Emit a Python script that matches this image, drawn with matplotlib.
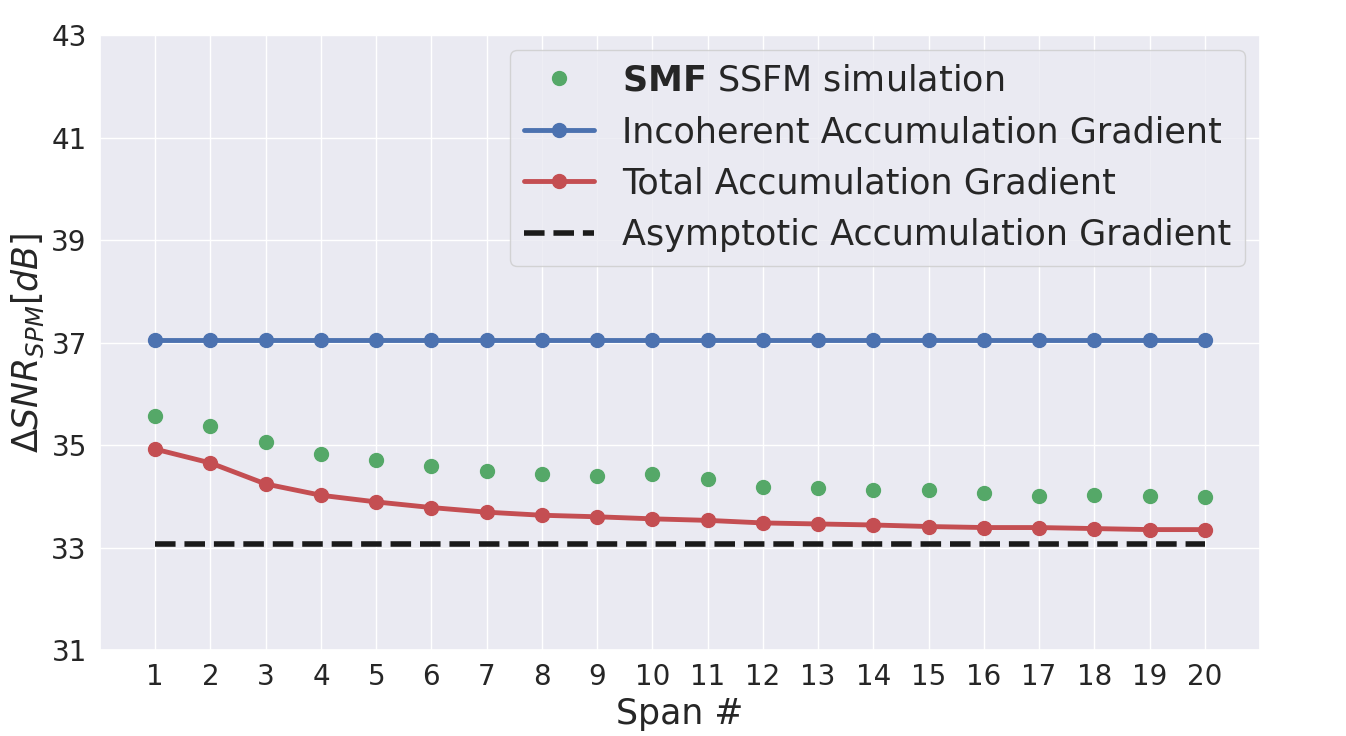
import matplotlib
matplotlib.use('Agg')
import matplotlib.pyplot as plt
import seaborn as sns
import numpy as np

# пролёты
spans = np.arange(1, 21)

# результаты моделирования SSFM для SMF
ssfm_smf = [35.57, 35.37, 35.06, 34.82, 34.71, 34.59, 34.49, 34.43, 34.39, 34.43,
            34.33, 34.19, 34.17, 34.12, 34.12, 34.06, 34.01, 34.03, 34.01, 33.99]

# некогерентный градиент накопления
incoherent = [37.04] * 20

# полный градиент накопления
total = [34.92, 34.65, 34.24, 34.02, 33.89, 33.78, 33.69, 33.63, 33.60, 33.56,
         33.53, 33.48, 33.46, 33.44, 33.41, 33.39, 33.39, 33.37, 33.35, 33.35]

# асимптотический градиент
asymptotic = [33.06] * 20

y_ticks = [31, 33, 35, 37, 39, 41, 43]

sns.set_theme(style='darkgrid')
plt.rcParams['font.family'] = ['DejaVu Sans']
palette = sns.color_palette('deep')

fig = plt.figure(figsize=(13.46, 7.36), dpi=100)
ax = fig.add_axes([0.0743, 0.1168, 0.8618, 0.8356])

ax.plot(spans, ssfm_smf, 'o', color=palette[2], markersize=10,
        label=r'$\bf{SMF}$ SSFM simulation')
ax.plot(spans, incoherent, '-o', color=palette[0], linewidth=3.5, markersize=10,
        label='Incoherent Accumulation Gradient')
ax.plot(spans, total, '-o', color=palette[3], linewidth=3.5, markersize=10,
        label='Total Accumulation Gradient')
ax.plot(spans, asymptotic, '--', color='#1a1a1a', linewidth=4,
        label='Asymptotic Accumulation Gradient')

ax.set_xlim(0, 21)
ax.set_ylim(31, 43)
ax.set_xticks(spans)
ax.set_yticks(y_ticks)
ax.tick_params(labelsize=20)
ax.set_xlabel('Span #', fontsize=25)
ax.set_ylabel(r'$\Delta SNR_{SPM}[dB]$', fontsize=25)

ax.legend(loc='upper right', fontsize=25.2, borderaxespad=0.42)

fig.savefig('out.png', dpi=100)
